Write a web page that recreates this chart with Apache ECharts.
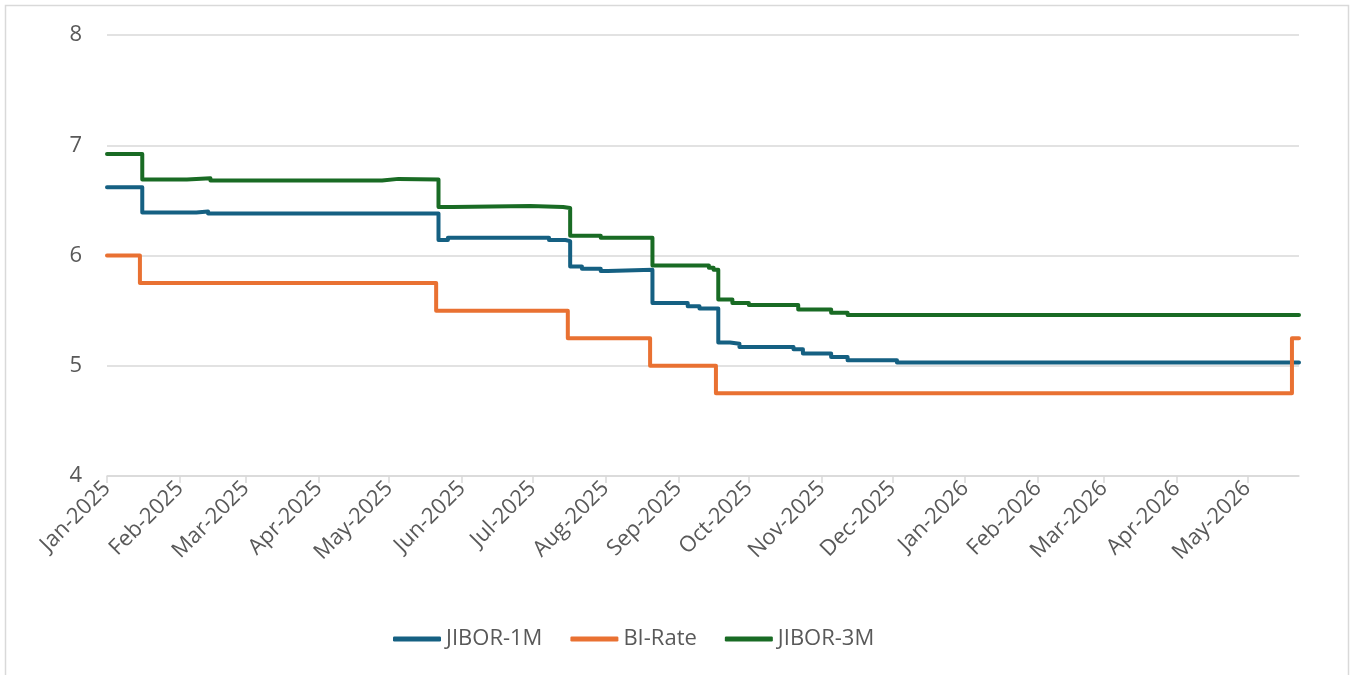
<!DOCTYPE html>
<html>
<head>
<meta charset="utf-8">
<script src="https://cdn.jsdelivr.net/npm/echarts@6/dist/echarts.min.js"></script>
<style>
  html, body { margin: 0; padding: 0; background: #ffffff; }
  #chart { width: 1352px; height: 675px; }
</style>
</head>
<body>
<div id="chart"></div>
<script>
// Change points: each value holds from its date until the next date.
const jibor1mDates = ['2025-01-01', '2025-01-16', '2025-02-08', '2025-02-13', '2025-05-22', '2025-05-26',
  '2025-07-08', '2025-07-15', '2025-07-17', '2025-07-22', '2025-07-30', '2025-08-02', '2025-08-21',
  '2025-09-05', '2025-09-10', '2025-09-18', '2025-09-23', '2025-09-27', '2025-10-20', '2025-10-24',
  '2025-11-05', '2025-11-12', '2025-12-03', '2026-05-23'];
const jibor1mValues = [6.62, 6.39, 6.40, 6.38, 6.14, 6.16,
  6.14, 6.13, 5.90, 5.88, 5.86, 5.87, 5.57,
  5.54, 5.52, 5.21, 5.20, 5.17, 5.15, 5.11,
  5.08, 5.05, 5.03, 5.03];

const biRateDates = ['2025-01-01', '2025-01-15', '2025-05-21', '2025-07-16', '2025-08-20', '2025-09-17',
  '2026-05-20', '2026-05-23'];
const biRateValues = [6.00, 5.75, 5.50, 5.25, 5.00, 4.75, 5.25, 5.25];

const jibor3mDates = ['2025-01-01', '2025-01-16', '2025-02-04', '2025-02-14', '2025-04-28', '2025-05-05',
  '2025-05-22', '2025-05-28', '2025-06-30', '2025-07-14', '2025-07-17', '2025-07-30', '2025-08-21',
  '2025-09-14', '2025-09-16', '2025-09-18', '2025-09-24', '2025-10-01', '2025-10-22', '2025-11-05',
  '2025-11-12', '2026-05-23'];
const jibor3mValues = [6.92, 6.69, 6.70, 6.68, 6.695, 6.69,
  6.44, 6.45, 6.44, 6.43, 6.18, 6.16, 5.91,
  5.89, 5.87, 5.60, 5.57, 5.55, 5.51, 5.48,
  5.46, 5.46];

const monthTicks = ['2025-01-01', '2025-02-01', '2025-03-01', '2025-04-01', '2025-05-01', '2025-06-01',
  '2025-07-01', '2025-08-01', '2025-09-01', '2025-10-01', '2025-11-01', '2025-12-01', '2026-01-01',
  '2026-02-01', '2026-03-01', '2026-04-01', '2026-05-01'];
const monthNames = ['Jan', 'Feb', 'Mar', 'Apr', 'May', 'Jun', 'Jul', 'Aug', 'Sep', 'Oct', 'Nov', 'Dec'];

const axisStart = '2025-01-01';
const axisEnd = '2026-05-23';

function toTs(s) {
  const p = s.split('-').map(Number);
  return Date.UTC(p[0], p[1] - 1, p[2]);
}
function pairs(dates, values) {
  return dates.map((d, i) => [toTs(d), values[i]]);
}

const FONT = '"Open Sans", "Noto Sans", sans-serif';
const TEXT = '#595959';
const GRID = '#d9d9d9';

const chart = echarts.init(document.getElementById('chart'), null, { renderer: 'canvas' });

function lineSeries(name, color, dates, values) {
  return {
    name: name,
    type: 'line',
    step: 'end',
    symbol: 'none',
    data: pairs(dates, values),
    lineStyle: { color: color, width: 4, cap: 'round', join: 'round' },
    itemStyle: { color: color },
    emphasis: { disabled: true },
    animation: false
  };
}

const tickValues = monthTicks.map(toTs);

chart.setOption({
  backgroundColor: '#ffffff',
  animation: false,
  graphic: [{
    type: 'rect',
    shape: { x: 5.5, y: 5.5, width: 1343, height: 700 },
    style: { fill: 'none', stroke: GRID, lineWidth: 1.5 },
    silent: true,
    z: -10
  }],
  grid: { left: 107, right: 53, top: 35, bottom: 199, containLabel: false },
  legend: {
    top: 623,
    left: 388,
    itemWidth: 48,
    itemHeight: 5,
    itemGap: 28,
    icon: 'roundRect',
    textStyle: { color: TEXT, fontSize: 22, fontFamily: FONT },
    data: ['JIBOR-1M', 'BI-Rate', 'JIBOR-3M']
  },
  xAxis: {
    type: 'value',
    min: toTs(axisStart),
    max: toTs(axisEnd),
    axisLine: { show: true, lineStyle: { color: GRID, width: 1.5 } },
    axisTick: {
      show: true,
      length: 7,
      lineStyle: { color: GRID, width: 1.5 },
      customValues: tickValues
    },
    axisLabel: {
      rotate: 45,
      margin: 9,
      color: TEXT,
      fontSize: 22,
      fontFamily: FONT,
      customValues: tickValues,
      formatter: function (val) {
        const d = new Date(val);
        return monthNames[d.getUTCMonth()] + '-' + d.getUTCFullYear();
      }
    },
    splitLine: { show: false }
  },
  yAxis: {
    type: 'value',
    min: 4,
    max: 8,
    interval: 1,
    axisLine: { show: false },
    axisTick: { show: false },
    axisLabel: { color: TEXT, fontSize: 22, fontFamily: FONT, margin: 25 },
    splitLine: { lineStyle: { color: GRID, width: 1.5 } }
  },
  series: [
    lineSeries('JIBOR-1M', '#156082', jibor1mDates, jibor1mValues),
    lineSeries('BI-Rate', '#e97132', biRateDates, biRateValues),
    lineSeries('JIBOR-3M', '#196b24', jibor3mDates, jibor3mValues)
  ]
});
</script>
</body>
</html>
